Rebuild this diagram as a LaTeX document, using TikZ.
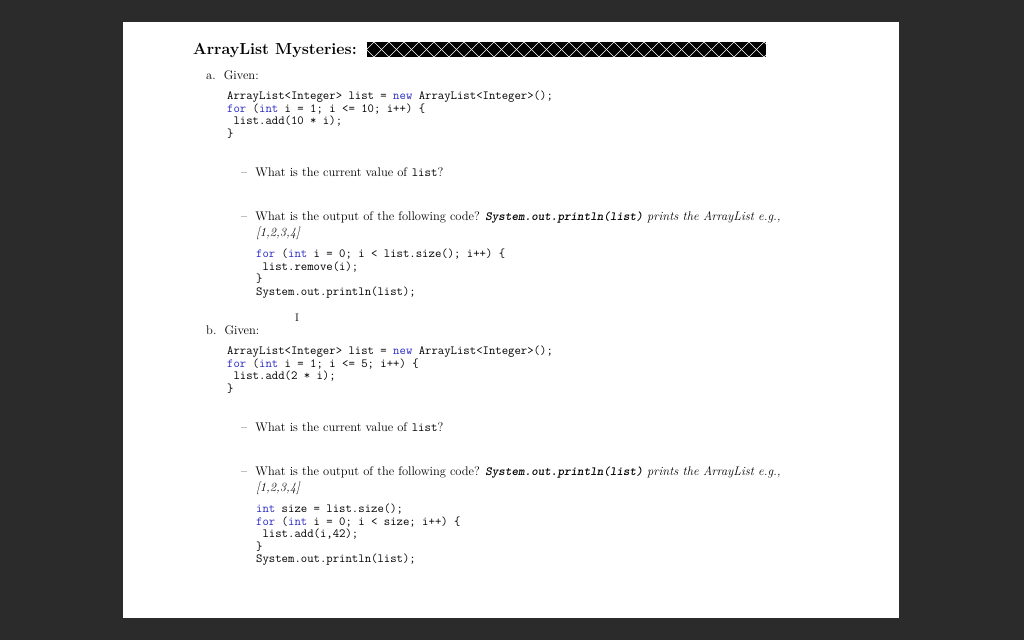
\documentclass[tikz,border=0pt]{standalone}
\usepackage{xcolor}
\definecolor{bg}{HTML}{2B2B2B}
\definecolor{kw}{HTML}{2A2AC8}
\newcommand{\kwd}[1]{\textcolor{kw}{#1}}
\begin{document}
\begin{tikzpicture}[x=1pt,y=-1pt,
  txt/.style={anchor=base west,inner sep=0pt,font=\fontsize{12.5}{14}\selectfont},
  code/.style={anchor=base west,inner sep=0pt,font=\fontsize{12.4}{12.5}\ttfamily,align=left},
  ttl/.style={anchor=base west,inner sep=0pt,font=\fontsize{16}{18}\selectfont\bfseries}]
\fill[bg] (0,0) rectangle (1024,640);
\fill[white] (123,22) rectangle (899,618);
\node[ttl] (title) at (193,54) {ArrayList Mysteries:};
\fill[black] (367,42) rectangle (766,57);
\begin{scope}
\clip (367,42) rectangle (766,57);
\foreach \i in {0,...,27} {
  \draw[white,line width=0.6] (359+\i*15,42) -- (374+\i*15,57);
  \draw[white,line width=0.6] (374+\i*15,42) -- (359+\i*15,57);
}
\end{scope}
\node[txt] (a) at (206,79) {a.\ \ Given:};
\node[code,anchor=north west] (ca) at (227,91) {ArrayList<Integer> list = \kwd{new} ArrayList<Integer>();\\
\kwd{for} (\kwd{int} i = 1; i <= 10; i++) \{\\
\ list.add(10 * i);\\
\}};
\node[txt] (qa1) at (241,176) {--\ \ What is the current value of \texttt{list}?};
\node[txt] (qa2) at (241,220) {--\ \ What is the output of the following code? \textit{\texttt{\bfseries System.out.println(list)} prints the ArrayList e.g.,}};
\node[txt] (qa2b) at (256,236) {\textit{[1,2,3,4]}};
\node[code,anchor=north west] (cb) at (256,249) {\kwd{for} (\kwd{int} i = 0; i < list.size(); i++) \{\\
\ list.remove(i);\\
\}\\
System.out.println(list);};
\node[txt] (b) at (206,334) {b.\ \ Given:};
\node[code,anchor=north west] (cc) at (227,346) {ArrayList<Integer> list = \kwd{new} ArrayList<Integer>();\\
\kwd{for} (\kwd{int} i = 1; i <= 5; i++) \{\\
\ list.add(2 * i);\\
\}};
\node[txt] (qb1) at (241,431) {--\ \ What is the current value of \texttt{list}?};
\node[txt] (qb2) at (241,475) {--\ \ What is the output of the following code? \textit{\texttt{\bfseries System.out.println(list)} prints the ArrayList e.g.,}};
\node[txt] (qb2b) at (256,491) {\textit{[1,2,3,4]}};
\node[code,anchor=north west] (cd) at (256,504) {\kwd{int} size = list.size();\\
\kwd{for} (\kwd{int} i = 0; i < size; i++) \{\\
\ list.add(i,42);\\
\}\\
System.out.println(list);};
\node[anchor=center,inner sep=0pt,font=\fontsize{11}{11}\selectfont] (cur) at (297,318) {I};
\end{tikzpicture}
\end{document}
